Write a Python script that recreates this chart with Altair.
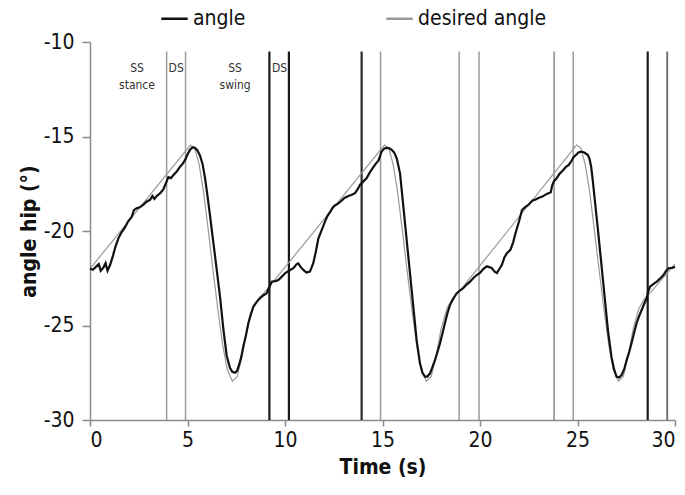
import altair as alt
import pandas as pd

# ---- measured angle (black) ----
angle_t = [
    0.0, 0.15, 0.3, 0.45, 0.55, 0.68, 0.8, 0.9, 1.03, 1.18, 1.3, 1.45, 1.6, 1.8, 1.95, 2.14, 2.25, 2.39,
    2.55, 2.74, 2.9, 3.08, 3.2, 3.3, 3.42, 3.6, 3.76, 3.9, 4.02, 4.15, 4.27, 4.45, 4.62, 4.75, 4.87, 5.0,
    5.13, 5.25, 5.38, 5.5, 5.64, 5.77, 5.9, 6.02, 6.15, 6.28, 6.41, 6.54, 6.67, 6.84, 7.01, 7.18, 7.3,
    7.44, 7.54, 7.64, 7.75, 7.86, 8.0, 8.12, 8.25, 8.38, 8.55, 8.72, 8.9, 9.06, 9.2, 9.32, 9.5, 9.66, 9.85,
    10.0, 10.2, 10.43, 10.6, 10.68, 10.8, 10.94, 11.1, 11.28, 11.45, 11.58, 11.71, 11.88, 12.05, 12.18,
    12.31, 12.45, 12.56, 12.72, 12.9, 13.05, 13.25, 13.4, 13.59, 13.72, 13.85, 14.0, 14.19, 14.35, 14.53,
    14.65, 14.79, 14.96, 15.1, 15.21, 15.35, 15.47, 15.6, 15.73, 15.9, 16.07, 16.24, 16.41, 16.58, 16.75,
    16.92, 17.05, 17.18, 17.3, 17.44, 17.56, 17.69, 17.82, 17.95, 18.08, 18.2, 18.33, 18.46, 18.62, 18.8,
    18.97, 19.14, 19.3, 19.49, 19.65, 19.83,
    20.0, 20.18, 20.35, 20.6, 20.75, 20.87, 21.0, 21.13, 21.25, 21.38, 21.56, 21.7, 21.82, 22.0, 22.15,
    22.3, 22.5, 22.68, 22.85, 23.0, 23.2, 23.4, 23.63, 23.7, 23.8, 23.9, 24.06, 24.25, 24.41, 24.55, 24.67,
    24.8, 24.92, 25.05, 25.18, 25.35, 25.53, 25.62, 25.7, 25.78, 25.87, 26.05, 26.22, 26.39, 26.56, 26.74,
    26.87, 27.0, 27.13, 27.26, 27.4, 27.52, 27.65, 27.77, 27.9, 28.03, 28.16, 28.29, 28.42, 28.55, 28.63,
    28.72, 28.9, 29.07, 29.25, 29.41, 29.55, 29.67, 29.85, 30.0,
]
angle_v = [
    -22.0, -22.05, -21.9, -21.75, -22.1, -21.95, -21.7, -22.1, -21.8, -21.3, -20.85, -20.4, -20.1, -19.8,
    -19.5, -19.25, -18.9, -18.8, -18.75, -18.6, -18.45, -18.35, -18.15, -18.3, -18.15, -18.0, -17.8, -17.45,
    -17.15, -17.2, -17.05, -16.85, -16.6, -16.45, -16.25, -15.95, -15.7, -15.58, -15.6, -15.72, -16.0,
    -16.45, -17.2, -18.1, -19.15, -20.25, -21.3, -22.4, -23.5, -25.2, -26.6, -27.25, -27.45, -27.5, -27.4,
    -27.1, -26.7, -26.12, -25.5, -24.88, -24.4, -24.0, -23.75, -23.56, -23.4, -23.3, -22.95, -22.68, -22.65,
    -22.6, -22.4,
    -22.24, -22.1, -21.97, -21.75, -21.71, -21.9, -22.06, -22.2, -22.15, -21.7, -21.1, -20.4, -19.95,
    -19.5, -19.2, -19.0, -18.75, -18.65, -18.55, -18.4, -18.25, -18.15, -18.1, -18.0, -17.8, -17.55,
    -17.4, -17.2, -16.9, -16.62, -16.45, -16.28, -15.78, -15.63, -15.6, -15.62, -15.7, -15.85, -16.15,
    -16.95, -18.71, -20.48, -22.24, -24.0, -25.77, -27.0, -27.5, -27.7, -27.7, -27.53, -27.2, -26.83, -26.4,
    -25.94, -25.4, -24.88, -24.35, -23.92, -23.6, -23.3, -23.15, -23.03, -22.85, -22.68, -22.5, -22.33,
    -22.22, -22.0, -21.87, -21.96, -22.15, -22.22, -22.0, -21.78, -21.4, -21.18, -21.0, -20.6, -20.12,
    -19.5, -18.9, -18.75, -18.6, -18.4, -18.33, -18.25, -18.18, -18.05, -17.95, -17.6, -17.35, -17.25, -17.0,
    -16.8, -16.6, -16.5, -16.33, -16.1, -15.98, -15.85, -15.8, -15.85, -15.98, -16.2, -16.6, -17.3, -18.18,
    -19.95, -21.7, -23.47, -25.24, -26.65, -27.3, -27.7, -27.75, -27.62, -27.3, -26.83, -26.4, -25.94,
    -25.4, -24.88, -24.5, -24.18, -23.85, -23.56, -23.2, -22.94, -22.8, -22.68, -22.5, -22.33, -22.1,
    -21.97, -21.95, -21.9,
]

# ---- desired angle (grey) ----
desired_t = [
    0.0, 5.15, 5.37, 5.6, 5.82, 6.06, 6.3, 6.55, 6.8, 7.03, 7.3, 7.55, 7.8, 8.05, 8.35, 8.65, 8.95,
    15.1, 15.32, 15.55, 15.77, 16.01, 16.25, 16.5, 16.75, 16.98, 17.25, 17.5, 17.75, 18.0, 18.3, 18.6, 18.9,
    24.95, 25.17, 25.4, 25.62, 25.86, 26.1, 26.35, 26.6, 26.83, 27.1, 27.35, 27.6, 27.85, 28.15, 28.45, 28.75,
    30.0,
]
desired_v = [
    -22.0, -15.45, -15.6, -16.5, -17.9, -19.9, -22.0, -24.1, -26.0, -27.3, -27.95, -27.7, -26.6, -25.2, -24.1, -23.55, -23.25,
    -15.45, -15.6, -16.5, -17.9, -19.9, -22.0, -24.1, -26.0, -27.3, -27.95, -27.7, -26.6, -25.2, -24.1, -23.55, -23.25,
    -15.45, -15.6, -16.5, -17.9, -19.9, -22.0, -24.1, -26.0, -27.3, -27.95, -27.7, -26.6, -25.2, -24.1, -23.55, -23.25,
    -21.75,
]

# ---- phase boundaries ----
event_t = [3.93, 4.9, 9.2, 10.2, 13.93, 14.9, 18.93, 19.95, 23.8, 24.78, 28.6, 29.6]
event_c = ["#9a9a9a", "#9a9a9a", "#1a1a1a", "#1a1a1a", "#2a2a2a", "#9a9a9a",
           "#9a9a9a", "#9a9a9a", "#8a8a8a", "#9a9a9a", "#1a1a1a", "#6a6a6a"]
event_w = [1.5, 1.5, 2.2, 2.2, 2.2, 1.5, 1.5, 1.5, 1.5, 1.5, 2.2, 1.8]

# ---- phase labels ----
phase_text = ["SS", "stance", "DS", "SS", "swing", "DS"]
phase_x = [2.41, 2.41, 4.42, 7.44, 7.44, 9.72]
phase_y = [-11.4, -12.25, -11.4, -11.4, -12.25, -11.4]

series = ["angle", "desired angle"]
colors = ["#111111", "#9a9a9a"]

FONT = "DejaVu Sans Condensed, Liberation Sans Narrow, Liberation Sans, Arial, sans-serif"

df_a = pd.DataFrame({"t": angle_t, "v": angle_v, "s": "angle"})
df_d = pd.DataFrame({"t": desired_t, "v": desired_v, "s": "desired angle"})
df_e = pd.DataFrame({"t": event_t, "c": event_c, "w": event_w})
df_p = pd.DataFrame({"t": phase_x, "v": phase_y, "txt": phase_text})

xscale = alt.Scale(domain=[0, 30], nice=False)
yscale = alt.Scale(domain=[-30, -10], nice=False)

xaxis = alt.Axis(values=[0, 5, 10, 15, 20, 25, 30], title="Time (s)",
                 labelExpr="toString(datum.value)")
yaxis = alt.Axis(values=[-30, -25, -20, -15, -10], title="angle hip (°)",
                 labelExpr="toString(datum.value)")

color_scale = alt.Scale(domain=series, range=colors)

rules = alt.Chart(df_e).mark_rule().encode(
    x=alt.X("t:Q", scale=xscale, axis=xaxis),
    y=alt.datum(-10.5, scale=yscale, axis=yaxis),
    y2=alt.datum(-30),
    stroke=alt.Stroke("c:N", scale=None),
    strokeWidth=alt.StrokeWidth("w:Q", scale=None),
)

desired = alt.Chart(df_d).mark_line(strokeWidth=1.2).encode(
    x=alt.X("t:Q", scale=xscale, axis=xaxis),
    y=alt.Y("v:Q", scale=yscale, axis=yaxis),
    color=alt.Color("s:N", scale=color_scale,
                    legend=alt.Legend(title=None, orient="none", direction="horizontal",
                                      legendX=70, legendY=-38, symbolType="stroke",
                                      symbolSize=700, symbolStrokeWidth=2.5,
                                      labelFontSize=21, labelFont=FONT, labelColor="#111",
                                      columnPadding=135, labelOffset=4)),
)

angle = alt.Chart(df_a).mark_line(strokeWidth=2.2).encode(
    x=alt.X("t:Q", scale=xscale, axis=xaxis),
    y=alt.Y("v:Q", scale=yscale, axis=yaxis),
    color=alt.Color("s:N", scale=color_scale),
)

labels = alt.Chart(df_p).mark_text(fontSize=12, font=FONT, color="#333", baseline="middle").encode(
    x=alt.X("t:Q", scale=xscale),
    y=alt.Y("v:Q", scale=yscale),
    text="txt:N",
)

chart = alt.layer(rules, desired, angle, labels).properties(
    width=585, height=378,
    autosize=alt.AutoSizeParams(type="none"),
    padding={"left": 90, "top": 42, "right": 10, "bottom": 75},
).configure_view(stroke=None).configure_axis(
    grid=False,
    domainColor="#8a8a8a", tickColor="#8a8a8a", domainWidth=1.5, tickWidth=1.5,
    labelFont=FONT, labelFontSize=21, labelColor="#111",
    titleFont=FONT, titleFontSize=21, titleFontWeight="bold", titleColor="#111",
).configure_axisX(
    tickSize=6, labelPadding=3, titlePadding=6,
).configure_axisY(
    tickSize=8, labelPadding=8, titlePadding=4,
)

chart.save("out.html", embed_options={"renderer": "svg", "actions": False})
